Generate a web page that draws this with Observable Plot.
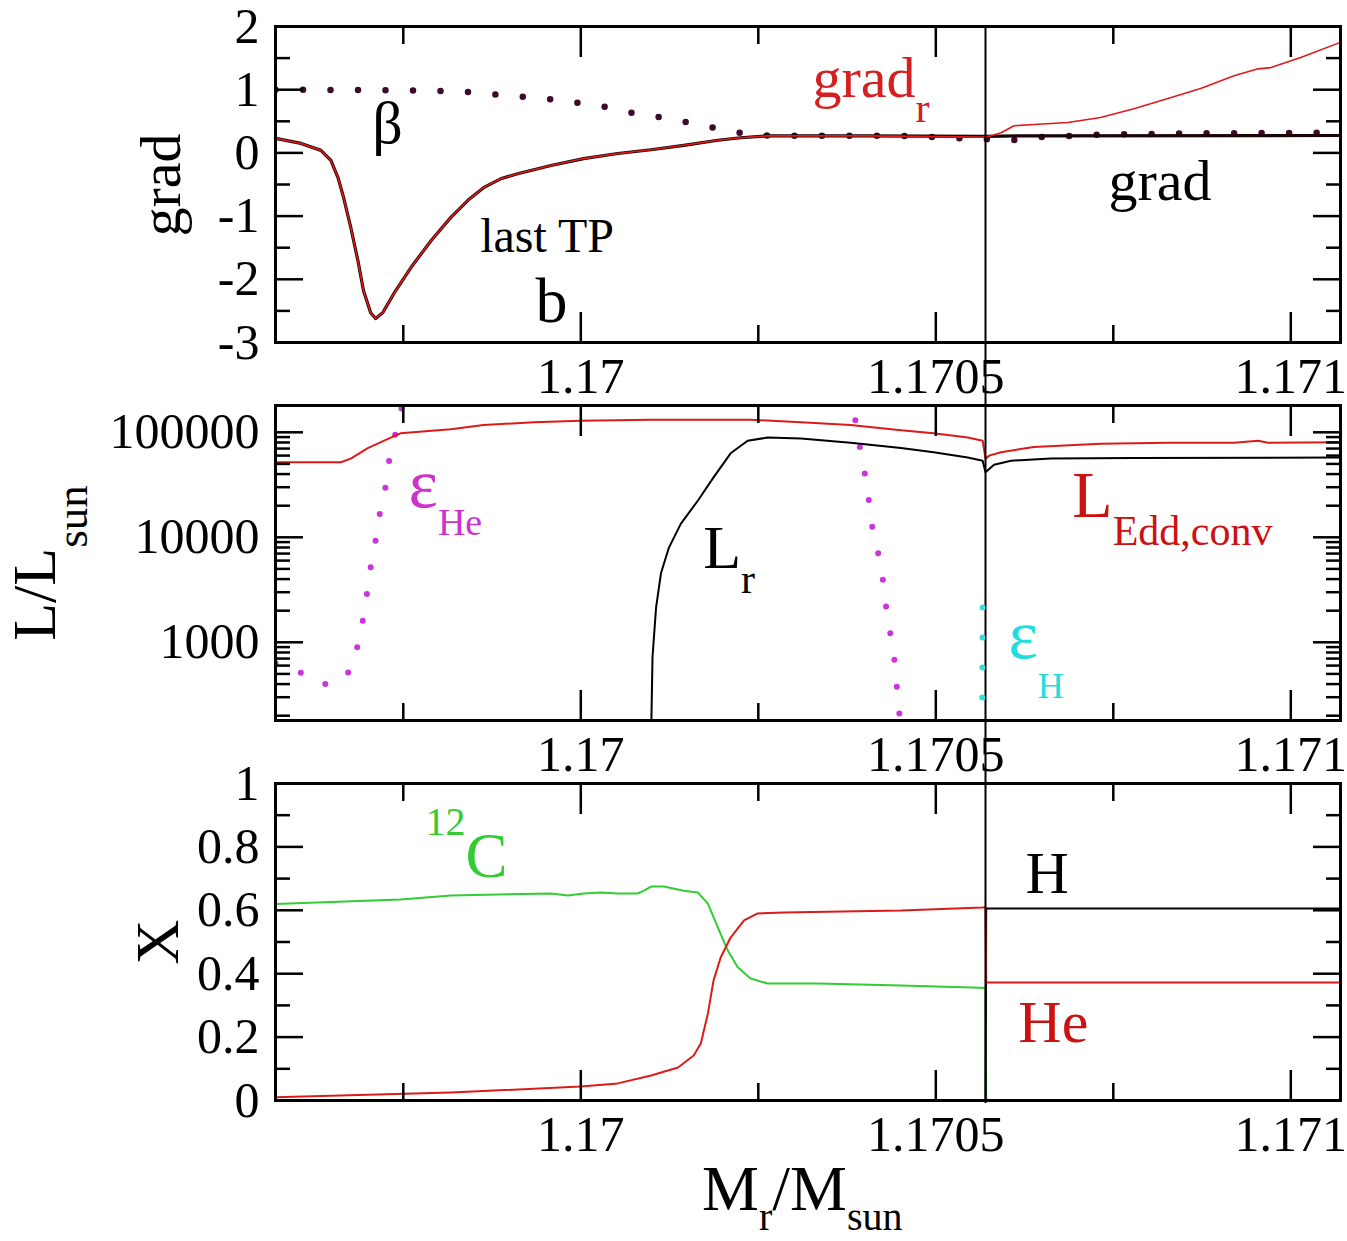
<!DOCTYPE html>
<html>
<head>
<meta charset="utf-8">
<script src="https://cdn.jsdelivr.net/npm/d3@7"></script>
<script src="https://cdn.jsdelivr.net/npm/@observablehq/plot@0.6"></script>
<style>
  html, body { margin: 0; padding: 0; background: #fff; }
  #chart { width: 1347px; }
  #chart svg { display: block; }
</style>
</head>
<body>
<div id="chart"></div>
<script>
// ---------------- shared x axis ----------------
const xDomain = [1.16957, 1.17107];
const xMajorTicks = [1.17, 1.1705, 1.171];
const xMinorTicks = [1.16975, 1.17025, 1.17075];
const shellBoundary = 1.17057;

// ---------------- panel 1: gradients ----------------
const gradYMajor = [-3, -2, -1, 0, 1, 2];
const gradYMinor = [-2.5, -1.5, -0.5, 0.5, 1.5];
const gradRX = [1.169570, 1.169606, 1.169634, 1.169648, 1.169658, 1.169666, 1.169676, 1.169686, 1.169694, 1.169704, 1.169711, 1.169721, 1.169737, 1.169761, 1.169789, 1.169817, 1.169841, 1.169863, 1.169887, 1.169911, 1.169958, 1.170004, 1.170052, 1.170099, 1.170145, 1.170193, 1.170225, 1.170263, 1.170400, 1.170566, 1.170578, 1.170592, 1.170610, 1.170638, 1.170686, 1.170732, 1.170779, 1.170827, 1.170873, 1.170920, 1.170954, 1.170972, 1.171014, 1.171070];
const gradRY = [0.23, 0.15, 0.04, -0.12, -0.39, -0.71, -1.18, -1.70, -2.18, -2.53, -2.62, -2.53, -2.22, -1.81, -1.39, -1.02, -0.75, -0.55, -0.41, -0.33, -0.20, -0.09, -0.01, 0.05, 0.12, 0.20, 0.24, 0.27, 0.27, 0.25, 0.27, 0.32, 0.43, 0.45, 0.48, 0.56, 0.70, 0.86, 1.02, 1.22, 1.33, 1.35, 1.51, 1.75];
const gradX = [1.169570, 1.169606, 1.169634, 1.169648, 1.169658, 1.169666, 1.169676, 1.169686, 1.169694, 1.169704, 1.169711, 1.169721, 1.169737, 1.169761, 1.169789, 1.169817, 1.169841, 1.169863, 1.169887, 1.169911, 1.169958, 1.170004, 1.170052, 1.170099, 1.170145, 1.170193, 1.170225, 1.170263, 1.170400, 1.170570, 1.170620, 1.171070];
const gradY = [0.23, 0.15, 0.04, -0.12, -0.39, -0.71, -1.18, -1.70, -2.18, -2.53, -2.62, -2.53, -2.22, -1.81, -1.39, -1.02, -0.75, -0.55, -0.41, -0.33, -0.20, -0.09, -0.01, 0.05, 0.12, 0.20, 0.24, 0.27, 0.27, 0.26, 0.27, 0.275];
const betaX = [1.169570, 1.169746, 1.169803, 1.169845, 1.169885, 1.169925, 1.169962, 1.170003, 1.170039, 1.170077, 1.170115, 1.170152, 1.170190, 1.170228, 1.170268, 1.170451, 1.170563, 1.170608, 1.170648, 1.170732, 1.170873, 1.171070];
const betaY = [1.0, 0.99, 0.98, 0.96, 0.92, 0.88, 0.845, 0.78, 0.72, 0.62, 0.56, 0.48, 0.39, 0.31, 0.27, 0.27, 0.22, 0.20, 0.25, 0.29, 0.31, 0.32];

// ---------------- panel 2: luminosities ----------------
const lumDomain = [180, 180000];
const lumYMajor = [1000, 10000, 100000];
const lumYMinor = [200, 300, 400, 500, 600, 700, 800, 900, 2000, 3000, 4000, 5000, 6000, 7000, 8000, 9000, 20000, 30000, 40000, 50000, 60000, 70000, 80000, 90000];
const lEddX = [1.169570, 1.169662, 1.169676, 1.169700, 1.169723, 1.169746, 1.169817, 1.169863, 1.169934, 1.170000, 1.170099, 1.170239, 1.170310, 1.170380, 1.170451, 1.170497, 1.170545, 1.170566, 1.170570, 1.170576, 1.170592, 1.170638, 1.170732, 1.170827, 1.170920, 1.170954, 1.170968, 1.171070];
const lEddY = [51800, 51800, 56200, 70800, 83200, 97700, 107000, 117500, 124500, 128800, 131800, 131800, 124500, 117500, 104700, 97700, 89100, 83200, 56200, 60300, 64600, 72400, 77600, 79400, 79400, 83200, 79400, 80400];
const lRX = [1.170098, 1.170101, 1.170106, 1.170113, 1.170124, 1.170141, 1.170165, 1.170187, 1.170211, 1.170235, 1.170263, 1.170310, 1.170380, 1.170451, 1.170497, 1.170545, 1.170566, 1.170570, 1.170582, 1.170606, 1.170662, 1.170779, 1.171070];
const lRY = [50, 720, 2140, 4570, 7940, 13500, 22400, 37200, 63100, 83200, 89100, 87100, 79400, 70800, 64600, 57500, 53700, 41700, 49000, 53700, 56200, 56900, 57500];
const epsHeX = [1.169570, 1.169608, 1.169644, 1.169672, 1.169685, 1.169693, 1.169699, 1.169704, 1.169711, 1.169717, 1.169725, 1.169730, 1.169739, 1.169749, 1.169775, 1.170366, 1.170383, 1.170390, 1.170397, 1.170404, 1.170408, 1.170415, 1.170423, 1.170427, 1.170432, 1.170439, 1.170444, 1.170446, 1.170458];
const epsHeY = [631, 507, 389, 507, 891, 1620, 2950, 5130, 9330, 17000, 30200, 53700, 97700, 186000, 3200000, 3200000, 186000, 93300, 51300, 29500, 15500, 8710, 5620, 3160, 1700, 933, 513, 295, 63];
const epsHX = [1.170566, 1.170565];
const epsHY = [2150, 100];

// ---------------- panel 3: abundances ----------------
const abunYMajor = [0, 0.2, 0.4, 0.6, 0.8, 1];
const abunYMinor = [0.1, 0.3, 0.5, 0.7, 0.9];
const c12X = [1.169570, 1.169746, 1.169817, 1.169958, 1.169982, 1.170004, 1.170028, 1.170052, 1.170080, 1.170089, 1.170099, 1.170117, 1.170145, 1.170165, 1.170179, 1.170193, 1.170207, 1.170221, 1.170239, 1.170263, 1.170334, 1.170451, 1.170563, 1.170570, 1.170571];
const c12Y = [0.62, 0.634, 0.647, 0.653, 0.647, 0.653, 0.656, 0.653, 0.653, 0.662, 0.675, 0.675, 0.662, 0.656, 0.621, 0.546, 0.473, 0.42, 0.385, 0.369, 0.369, 0.363, 0.356, 0.355, 0];
const heX = [1.169570, 1.169817, 1.170000, 1.170052, 1.170099, 1.170137, 1.170159, 1.170169, 1.170179, 1.170187, 1.170197, 1.170211, 1.170230, 1.170249, 1.170286, 1.170451, 1.170566, 1.170570, 1.170571, 1.171070];
const heY = [0.01, 0.025, 0.044, 0.054, 0.079, 0.104, 0.142, 0.18, 0.274, 0.379, 0.451, 0.514, 0.568, 0.59, 0.593, 0.599, 0.609, 0.61, 0.372, 0.372];
const hX = [1.169570, 1.170570, 1.170571, 1.171070];
const hY = [0, 0, 0.606, 0.606];

// ---------------- helpers ----------------
const serif = "'Liberation Serif', 'Times New Roman', serif";
const W = 1347, ML = 275, MR = 7;
const pts = (xs, ys) => xs.map((x, i) => ({x, y: ys[i]}));
const styleObj = {fontFamily: serif, fontSize: "50px", background: "white", color: "black", overflow: "visible"};

function xAxisMarks() {
  return [
    Plot.axisX(xMajorTicks, {anchor: "bottom", tickSize: 0, tickPadding: 15, fontSize: 50, tickFormat: d => String(d), label: null}),
    Plot.axisX(xMajorTicks, {anchor: "bottom", tickSize: -30, fill: "none", strokeWidth: 2.5}),
    Plot.axisX(xMajorTicks, {anchor: "top", tickSize: -30, fill: "none", strokeWidth: 2.5}),
    Plot.axisX(xMinorTicks, {anchor: "bottom", tickSize: -17, fill: "none", strokeWidth: 2.5}),
    Plot.axisX(xMinorTicks, {anchor: "top", tickSize: -17, fill: "none", strokeWidth: 2.5})
  ];
}
function yAxisMarks(major, minor) {
  return [
    Plot.axisY(major, {anchor: "left", tickSize: 0, tickPadding: 16, fontSize: 50, tickFormat: d => String(d), label: null}),
    Plot.axisY(major, {anchor: "left", tickSize: -28, fill: "none", strokeWidth: 2.5}),
    Plot.axisY(major, {anchor: "right", tickSize: -28, fill: "none", strokeWidth: 2.5}),
    Plot.axisY(minor, {anchor: "left", tickSize: -15, fill: "none", strokeWidth: 2.5}),
    Plot.axisY(minor, {anchor: "right", tickSize: -15, fill: "none", strokeWidth: 2.5})
  ];
}
function note(chart, xv, yv, parts, fill) {
  const x = chart.scale("x").apply(xv), y = chart.scale("y").apply(yv);
  const t = d3.select(chart).append("text")
    .attr("x", x).attr("y", y).attr("fill", fill)
    .attr("font-family", serif).attr("text-anchor", "start");
  parts.forEach(p => t.append("tspan").attr("font-size", p.size).attr("dy", p.dy || 0).text(p.t));
}
function title(chart, x, y, parts, rotate) {
  const t = d3.select(chart).append("text")
    .attr("transform", `translate(${x},${y})` + (rotate ? " rotate(-90)" : ""))
    .attr("fill", "black").attr("font-family", serif)
    .attr("text-anchor", rotate ? "middle" : "start");
  parts.forEach(p => t.append("tspan").attr("font-size", p.size).attr("dy", p.dy || 0).text(p.t));
}

const root = document.getElementById("chart");

// ---------------- panel 1 ----------------
const p1 = Plot.plot({
  width: W, height: 400, marginLeft: ML, marginRight: MR, marginTop: 26, marginBottom: 58,
  style: styleObj,
  x: {domain: xDomain},
  y: {domain: [-3, 2]},
  marks: [
    Plot.line(pts(betaX, betaY), {x: "x", y: "y", stroke: "#3d0a2a", strokeWidth: 6.5, strokeDasharray: "0 27.5", strokeLinecap: "round", clip: true}),
    Plot.line(pts(gradX, gradY), {x: "x", y: "y", stroke: "#1a0505", strokeWidth: 3.2, clip: true}),
    Plot.line(pts(gradRX, gradRY), {x: "x", y: "y", stroke: "#e01a1a", strokeWidth: 1.6, clip: true}),
    Plot.ruleX([shellBoundary], {stroke: "black", strokeWidth: 2, insetBottom: -58}),
    Plot.frame({strokeWidth: 3}),
    ...xAxisMarks(),
    ...yAxisMarks(gradYMajor, gradYMinor)
  ]
});
note(p1, 1.169707, 0.149, [{t: "β", size: 60}], "black");
note(p1, 1.170327, 0.877, [{t: "grad", size: 58}, {t: "r", size: 42, dy: 25}], "#d42020");
note(p1, 1.170744, -0.753, [{t: "grad", size: 58}], "black");
note(p1, 1.169859, -1.58, [{t: "last TP", size: 48}], "black");
note(p1, 1.169937, -2.68, [{t: "b", size: 64}], "black");
title(p1, 180, 185, [{t: "grad", size: 58}], true);
root.appendChild(p1);

// ---------------- panel 2 ----------------
const p2 = Plot.plot({
  width: W, height: 380, marginLeft: ML, marginRight: MR, marginTop: 5, marginBottom: 60,
  style: styleObj,
  x: {domain: xDomain},
  y: {type: "log", domain: lumDomain},
  marks: [
    Plot.line(pts(epsHeX, epsHeY), {x: "x", y: "y", stroke: "#cc33dd", strokeWidth: 6, strokeDasharray: "0 27", strokeLinecap: "round", clip: true}),
    Plot.line(pts(lRX, lRY), {x: "x", y: "y", stroke: "black", strokeWidth: 2, clip: true}),
    Plot.line(pts(lEddX, lEddY), {x: "x", y: "y", stroke: "#dd1a1a", strokeWidth: 2, clip: true}),
    Plot.ruleX([shellBoundary], {stroke: "black", strokeWidth: 2, insetTop: -5, insetBottom: -60}),
    Plot.line(pts(epsHX, epsHY), {x: "x", y: "y", stroke: "#33dddd", strokeWidth: 6, strokeDasharray: "0 30", strokeLinecap: "round", clip: true}),
    Plot.frame({strokeWidth: 3}),
    ...xAxisMarks(),
    ...yAxisMarks(lumYMajor, lumYMinor)
  ]
});
note(p2, 1.169758, 19320, [{t: "ε", size: 70}, {t: "He", size: 38, dy: 28}], "#cc33cc");
note(p2, 1.170173, 5070, [{t: "L", size: 62}, {t: "r", size: 42, dy: 25}], "black");
note(p2, 1.170693, 15490, [{t: "L", size: 66}, {t: "Edd,conv", size: 42, dy: 28}], "#cc1111");
note(p2, 1.170603, 705, [{t: "ε", size: 70}, {t: "H", size: 36, dy: 40}], "#22dddd");
title(p2, 55, 163, [{t: "L/L", size: 62}, {t: "sun", size: 45, dy: 32}], true);
root.appendChild(p2);

// ---------------- panel 3 ----------------
const p3 = Plot.plot({
  width: W, height: 461, marginLeft: ML, marginRight: MR, marginTop: 3, marginBottom: 141,
  style: styleObj,
  x: {domain: xDomain},
  y: {domain: [0, 1]},
  marks: [
    Plot.line(pts(c12X, c12Y), {x: "x", y: "y", stroke: "#33cc33", strokeWidth: 2, clip: true}),
    Plot.line(pts(hX, hY), {x: "x", y: "y", stroke: "black", strokeWidth: 2, clip: true}),
    Plot.line(pts(heX, heY), {x: "x", y: "y", stroke: "#dd1a1a", strokeWidth: 2, clip: true}),
    Plot.ruleX([shellBoundary], {stroke: "black", strokeWidth: 2, insetTop: -3, insetBottom: -3}),
    Plot.frame({strokeWidth: 3}),
    ...xAxisMarks(),
    ...yAxisMarks(abunYMajor, abunYMinor)
  ]
});
note(p3, 1.169782, 0.836, [{t: "12", size: 40}, {t: "C", size: 63, dy: 42}], "#33cc33");
note(p3, 1.170627, 0.653, [{t: "H", size: 60}], "black");
note(p3, 1.170617, 0.183, [{t: "He", size: 60}], "#cc1111");
title(p3, 178, 162, [{t: "X", size: 62}], true);
title(p3, 702, 430, [{t: "M", size: 64}, {t: "r", size: 40, dy: 20}, {t: "/M", size: 64, dy: -20}, {t: "sun", size: 40, dy: 20}], false);
root.appendChild(p3);
</script>
</body>
</html>
